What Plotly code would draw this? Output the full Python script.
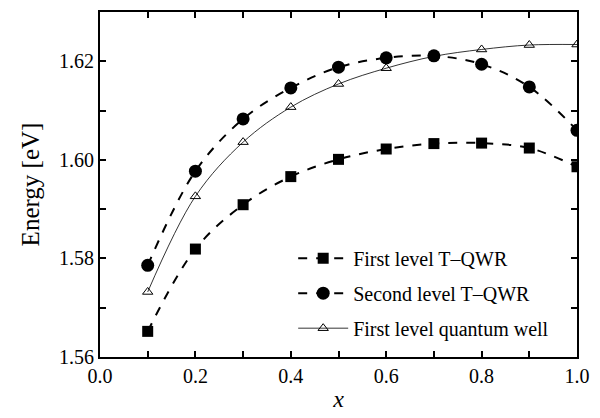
import plotly.graph_objects as go

x_vals = [0.1, 0.2, 0.3, 0.4, 0.5, 0.6, 0.7, 0.8, 0.9, 1.0]
first_qwr = [1.5652, 1.5819, 1.5909, 1.5966, 1.6001, 1.6022, 1.6033, 1.6034, 1.6024, 1.5986]
second_qwr = [1.5786, 1.5977, 1.6083, 1.6146, 1.6188, 1.6207, 1.6211, 1.6194, 1.6148, 1.6060]
first_qw = [1.5732, 1.5926, 1.6036, 1.6107, 1.6154, 1.6186, 1.6210, 1.6224, 1.6233, 1.6234]

names = ["First level T\u2013QWR", "Second level T\u2013QWR", "First level quantum well"]

font_family = "Liberation Serif, Times New Roman, serif"
tick_font = dict(family=font_family, size=20, color="black")

fig = go.Figure()
fig.add_trace(go.Scatter(
    x=x_vals, y=first_qwr, name=names[0], legendgroup="a",
    mode="lines+markers", line=dict(color="black", width=2, dash="dash", shape="spline"),
    marker=dict(symbol="square", size=11, color="black"),
))
fig.add_trace(go.Scatter(
    x=x_vals, y=second_qwr, name=names[1], legendgroup="b",
    mode="lines+markers", line=dict(color="black", width=2, dash="dash", shape="spline"),
    marker=dict(symbol="circle", size=13, color="black"),
))
fig.add_trace(go.Scatter(
    x=x_vals, y=first_qw, name=names[2], legendgroup="c",
    mode="lines+markers", line=dict(color="black", width=0.8, shape="spline"),
    marker=dict(symbol="triangle-up-open", size=9, color="black", line=dict(width=1)),
))

fig.update_layout(
    width=600, height=418,
    margin=dict(l=100, r=20, t=10, b=52),
    paper_bgcolor="white", plot_bgcolor="white",
    font=dict(family=font_family, size=20, color="black"),
    showlegend=True,
    legend=dict(x=0.405, y=0.185, xanchor="left", yanchor="middle",
                bgcolor="rgba(0,0,0,0)", itemwidth=50, tracegroupgap=6,
                font=dict(family=font_family, size=20, color="black")),
)
fig.update_xaxes(
    range=[0.0, 1.0], dtick=0.2, tickformat=".1f", tickfont=tick_font,
    showline=True, linecolor="black", linewidth=2, mirror="ticks",
    ticks="inside", ticklen=6, tickcolor="black", tickwidth=1.5,
    minor=dict(dtick=0.1, ticks="inside", ticklen=6, tickcolor="black", tickwidth=1.5),
    showgrid=False, zeroline=False,
    title=dict(text="<i>x</i>", font=dict(family=font_family, size=24, color="black"), standoff=4),
)
fig.update_yaxes(
    range=[1.56, 1.63], dtick=0.02, tickformat=".2f", tickfont=tick_font,
    showline=True, linecolor="black", linewidth=2, mirror="ticks",
    ticks="inside", ticklen=6, tickcolor="black", tickwidth=1.5,
    minor=dict(dtick=0.01, ticks="inside", ticklen=6, tickcolor="black", tickwidth=1.5),
    showgrid=False, zeroline=False,
    title=dict(text="Energy [eV]", font=dict(family=font_family, size=25, color="black"), standoff=12),
)

fig.write_html("out.html")
